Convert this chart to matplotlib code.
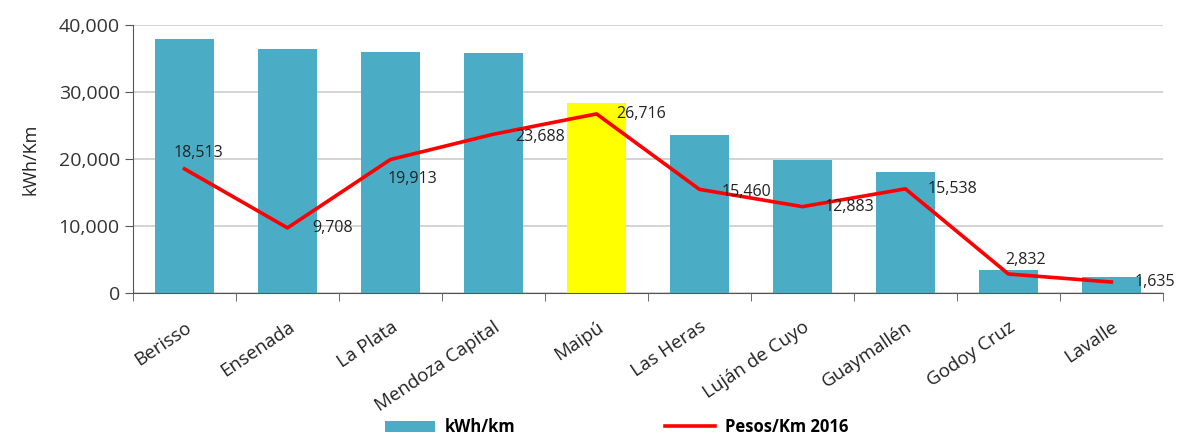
import matplotlib.pyplot as plt
import numpy as np
from matplotlib.ticker import FuncFormatter, FixedLocator

plt.rcParams['font.family'] = ['Open Sans', 'DejaVu Sans']

cities = ["Berisso", "Ensenada", "La Plata", "Mendoza Capital", "Maipú",
          "Las Heras", "Luján de Cuyo", "Guaymallén", "Godoy Cruz", "Lavalle"]
kwh_km = [37900, 36400, 36000, 35800, 28300, 23600, 19900, 18000, 3500, 2400]
pesos_km = [18513, 9708, 19913, 23688, 26716, 15460, 12883, 15538, 2832, 1635]
bar_colors = ["#4bacc6"] * 4 + ["#ffff00"] + ["#4bacc6"] * 5
# label offsets in points (dx, dy) and alignment
label_pos = [(-8, 6, "left", "bottom"), (18, 0, "left", "center"), (-2, -8, "left", "top"),
             (16, -2, "left", "center"), (14, 0, "left", "center"), (16, -2, "left", "center"),
             (16, 0, "left", "center"), (16, 0, "left", "center"), (-2, 4, "left", "bottom"),
             (17, 0, "left", "center")]

fig = plt.figure(figsize=(11.77, 4.36), dpi=100)
ax = fig.add_axes([0.113, 0.328, 0.875, 0.615])

x = np.arange(len(cities))
bars = ax.bar(x, kwh_km, width=0.57, color=bar_colors, zorder=2, label="kWh/km")
line, = ax.plot(x, pesos_km, color="#ff0000", lw=2.6, zorder=3, label="Pesos/Km 2016")

for xi, v, (dx, dy, ha, va) in zip(x, pesos_km, label_pos):
    ax.annotate(f"{v:,}", (xi, v), xytext=(dx, dy), textcoords="offset points",
                ha=ha, va=va, fontsize=11.5, color="#222222", zorder=4)

ax.set_xlim(-0.5, len(cities) - 0.5)
ax.set_ylim(0, 40000)
ax.set_yticks(np.arange(0, 40001, 10000))
ax.yaxis.set_major_formatter(FuncFormatter(lambda v, p: f"{int(v):,}"))
ax.tick_params(axis="y", labelsize=14, length=6, color="#555555", labelcolor="#333333")
ax.set_ylabel("kWh/Km", fontsize=13, color="#222222", labelpad=14)

ax.xaxis.set_major_locator(FixedLocator(x))
ax.set_xticklabels(cities, rotation=34, ha="right", rotation_mode="anchor",
                   fontsize=13.5, color="#222222")
ax.tick_params(axis="x", length=0, pad=18)
ax.xaxis.set_minor_locator(FixedLocator(np.arange(-0.5, len(cities), 1)))
ax.tick_params(axis="x", which="minor", length=6, color="#555555")

ax.grid(axis="y", color="#cccccc", lw=1.2, zorder=0)
for s in ["top", "right"]:
    ax.spines[s].set_visible(False)
ax.spines["left"].set_color("#555555")
ax.spines["bottom"].set_color("#555555")

leg = fig.legend(handles=[bars, line], loc="lower center", bbox_to_anchor=(0.524, -0.035),
                 ncol=2, frameon=False, columnspacing=9, handlelength=3.0,
                 handletextpad=0.6, prop={"weight": "bold", "size": 12})

fig.savefig("out.png", dpi=100)
